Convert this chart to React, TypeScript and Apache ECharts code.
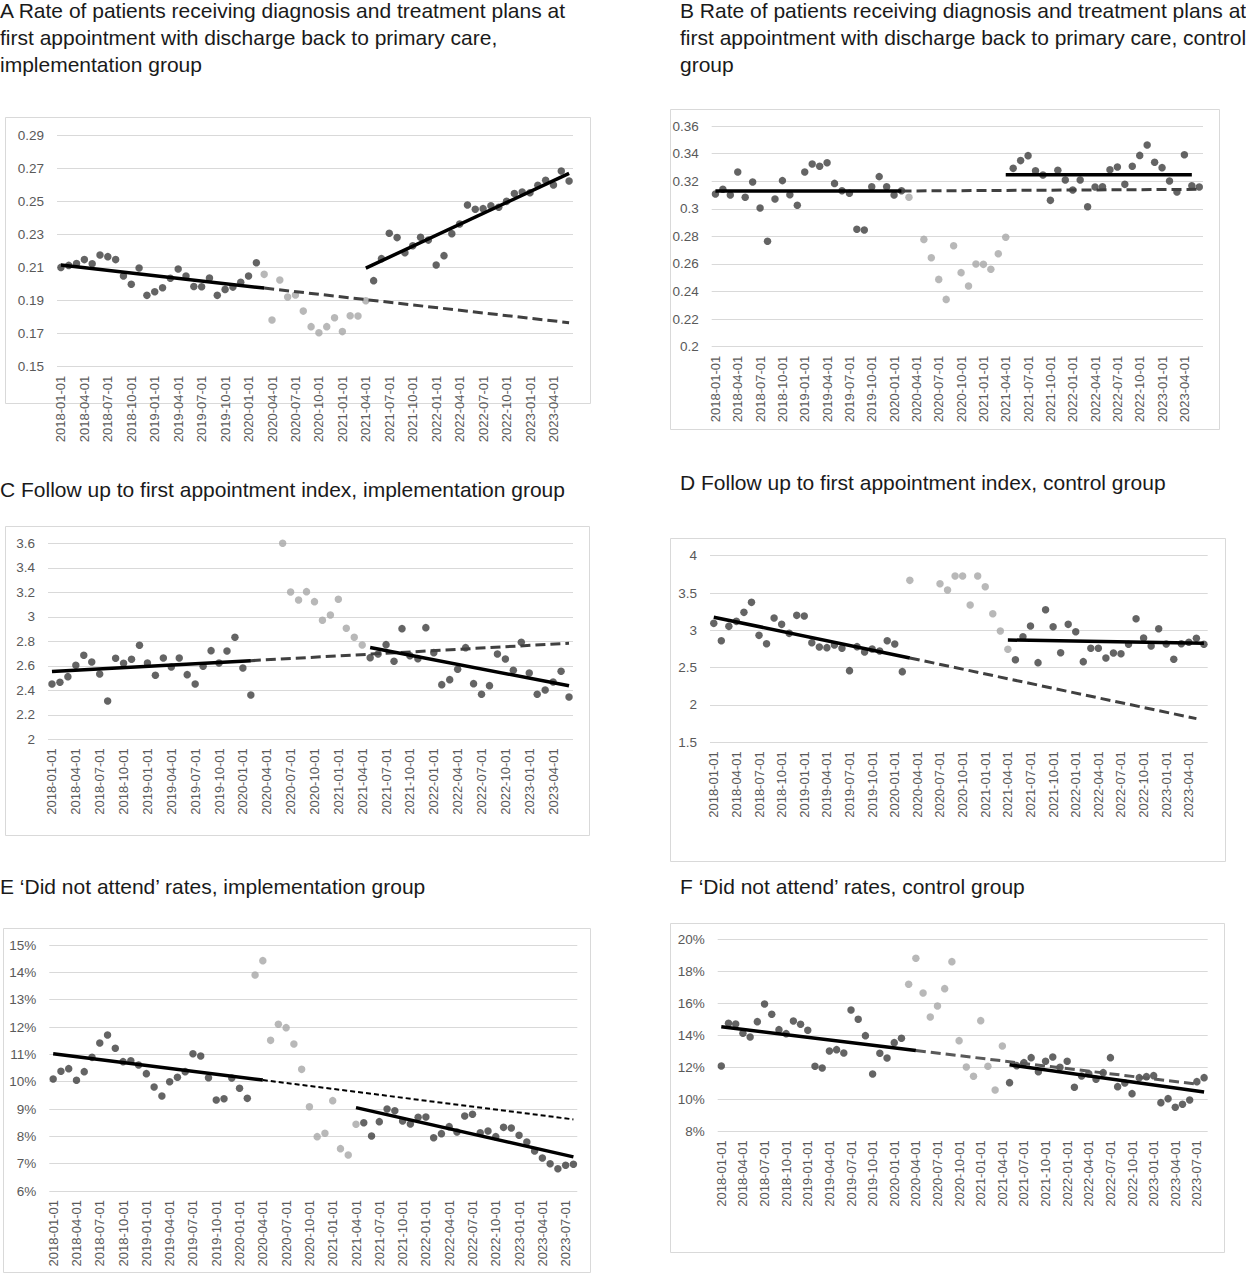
import React, { useEffect, useRef } from 'react';
import * as echarts from 'echarts';

// ---------- categories ----------
const buildMonths = (n: number): string[] =>
  Array.from({ length: n }, (_, k) => {
    const y = 2018 + Math.floor(k / 12);
    const m = (k % 12) + 1;
    return `${y}-${String(m).padStart(2, '0')}-01`;
  });
const months66 = buildMonths(66); // 2018-01 .. 2023-06
const months68 = buildMonths(68); // 2018-01 .. 2023-08

// ---------- Panel A ----------
const aPre = [0.2100, 0.2112, 0.2124, 0.2147, 0.2122, 0.2175, 0.2165, 0.2147, 0.2048, 0.1998, 0.2096, 0.1931, 0.1953, 0.1977, 0.2034, 0.2090, 0.2048, 0.1985, 0.1983, 0.2036, 0.1931, 0.1967, 0.1981, 0.2010, 0.2048, 0.2128];
const aCovid = [0.2058, 0.1782, 0.2024, 0.1921, 0.1933, 0.1836, 0.1742, 0.1705, 0.1742, 0.1796, 0.1712, 0.1808, 0.1806, 0.1899];
const aPost = [0.2020, 0.2153, 0.2306, 0.2280, 0.2189, 0.2231, 0.2282, 0.2265, 0.2114, 0.2171, 0.2304, 0.2362, 0.2477, 0.2451, 0.2455, 0.2473, 0.2463, 0.2499, 0.2547, 0.2555, 0.2551, 0.2596, 0.2626, 0.2598, 0.2682, 0.2622];
const aTrendPre = [[0, 0.2114], [26, 0.1975]];
const aTrendCf = [[26, 0.1975], [65, 0.1766]];
const aTrendPost = [[39, 0.2096], [65, 0.2668]];

// ---------- Panel B ----------
const bPre = [0.3107, 0.3141, 0.3100, 0.3266, 0.3083, 0.3194, 0.3005, 0.2764, 0.3071, 0.3204, 0.3102, 0.3025, 0.3266, 0.3324, 0.3308, 0.3334, 0.3184, 0.3131, 0.3112, 0.2851, 0.2846, 0.3160, 0.3233, 0.3160, 0.3100, 0.3131];
const bCovid = [0.3083, null, 0.2778, 0.2645, 0.2488, 0.2343, 0.2732, 0.2537, 0.2440, 0.2599, 0.2597, 0.2561, 0.2674, 0.2793];
const bPost = [0.3293, 0.3349, 0.3385, 0.3276, 0.3245, 0.3061, 0.3279, 0.3208, 0.3136, 0.3208, 0.3015, 0.3158, 0.3160, 0.3283, 0.3303, 0.3177, 0.3308, 0.3387, 0.3462, 0.3337, 0.3298, 0.3201, 0.3121, 0.3392, 0.3167, 0.3158];
const bTrendPre = [[0, 0.3129], [25, 0.3129]];
const bTrendCf = [[25, 0.3129], [65, 0.3141]];
const bTrendPost = [[39, 0.3247], [64, 0.3247]];

// ---------- Panel C ----------
const cPre = [2.4517, 2.4653, 2.5116, 2.6041, 2.6857, 2.6313, 2.5333, 2.3129, 2.6612, 2.6204, 2.6530, 2.7673, 2.6231, 2.5224, 2.6639, 2.5905, 2.6639, 2.5279, 2.4517, 2.5959, 2.7238, 2.6231, 2.7211, 2.8327, 2.5823, 2.3619];
const cCovid = [null, null, null, 3.6, 3.2027, 3.1374, 3.2054, 3.1238, 2.9714, 3.0150, 3.1429, 2.9061, 2.8327, 2.7701];
const cPost = [2.6667, 2.6966, 2.7728, 2.6367, 2.9034, 2.6830, 2.6585, 2.9116, 2.7075, 2.4463, 2.4871, 2.5714, 2.7483, 2.4544, 2.3673, 2.4381, 2.6966, 2.6558, 2.5633, 2.7918, 2.5415, 2.3673, 2.4027, 2.4680, 2.5551, 2.3456];
const cTrendPre = [[0, 2.553], [25, 2.642]];
const cTrendCf = [[25, 2.642], [65, 2.784]];
const cTrendPost = [[40, 2.749], [65, 2.437]];

// ---------- Panel D ----------
const dPre = [3.0938, 2.8616, 3.0536, 3.1205, 3.2411, 3.3750, 2.9330, 2.8214, 3.1652, 3.0804, 2.9598, 3.2009, 3.1920, 2.8348, 2.7768, 2.7679, 2.8036, 2.7589, 2.4598, 2.7813, 2.7098, 2.7500, 2.7232, 2.8616, 2.8170, 2.4464];
const dCovid = [3.6696, null, null, null, 3.6250, 3.5402, 3.7277, 3.7277, 3.3393, 3.7277, 3.5848, 3.2232, 2.9911, 2.7455];
const dPost = [2.6071, 2.9152, 3.0580, 2.5670, 3.2768, 3.0491, 2.7009, 3.0804, 2.9821, 2.5804, 2.7589, 2.7589, 2.6295, 2.6964, 2.6875, 2.8125, 3.1563, 2.8973, 2.7902, 3.0223, 2.8170, 2.6116, 2.8214, 2.8393, 2.8929, 2.8125];
const dTrendPre = [[0, 3.176], [26, 2.630]];
const dTrendCf = [[26, 2.630], [64, 1.817]];
const dTrendPost = [[39, 2.871], [65, 2.826]];

// ---------- Panel E (percent) ----------
const ePre = [10.098, 10.378, 10.476, 10.049, 10.366, 10.890, 11.415, 11.707, 11.220, 10.732, 10.768, 10.610, 10.293, 9.805, 9.476, 10.000, 10.159, 10.366, 11.024, 10.939, 10.146, 9.329, 9.378, 10.134, 9.756, 9.390];
const eCovid = [13.902, 14.427, 11.512, 12.098, 11.976, 11.378, 10.451, 9.085, 7.988, 8.110, 9.305, 7.549, 7.317, 8.439];
const ePost = [8.500, 8.012, 8.537, 9.000, 8.939, 8.561, 8.451, 8.695, 8.707, 7.951, 8.098, 8.354, 8.159, 8.744, 8.805, 8.134, 8.195, 7.988, 8.329, 8.305, 8.037, 7.793, 7.463, 7.207, 7.000, 6.817, 6.939, 6.976];
const eTrendPre = [[0, 11.02], [27, 10.06]];
const eTrendCf = [[27, 10.06], [67, 8.62]];
const eTrendPost = [[39, 9.05], [67, 7.25]];

// ---------- Panel F (percent) ----------
const fPre = [12.083, 14.750, 14.708, 14.125, 13.896, 14.854, 15.958, 15.313, 14.354, 14.104, 14.896, 14.688, 14.313, 12.063, 11.958, 13.021, 13.104, 12.896, 15.583, 15.000, 13.979, 11.583, 12.875, 12.583, 13.542, 13.813];
const fCovid = [17.188, 18.813, 16.646, 15.146, 15.833, 16.917, 18.604, 13.667, 12.021, 11.438, 14.917, 12.063, 10.583, 13.333];
const fPost = [11.042, 12.104, 12.292, 12.604, 11.729, 12.375, 12.646, 12.000, 12.375, 10.750, 11.458, 11.600, 11.250, 11.667, 12.604, 10.792, 11.021, 10.354, 11.354, 11.417, 11.479, 9.792, 10.042, 9.500, 9.688, 9.958, 11.104, 11.354];
const fTrendPre = [[0, 14.54], [27, 13.05]];
const fTrendCf = [[27, 13.05], [66, 10.95]];
const fTrendPost = [[40, 12.16], [67, 10.45]];

// ---------- titles ----------
const titleA = ['A Rate of patients receiving diagnosis and treatment plans at', 'first appointment with discharge back to primary care,', 'implementation group'];
const titleB = ['B Rate of patients receiving diagnosis and treatment plans at', 'first appointment with discharge back to primary care, control', 'group'];
const titleC = ['C Follow up to first appointment index, implementation group'];
const titleD = ['D Follow up to first appointment index, control group'];
const titleE = ['E \u2018Did not attend\u2019 rates, implementation group'];
const titleF = ['F \u2018Did not attend\u2019 rates, control group'];

const DARK = '#3d3d3d';
const GREY = '#a6a6a6';
const GRIDC = '#d9d9d9';
const LABELC = '#595959';
const FONT = 'Liberation Sans';

const panels = [
  { cats: months66, pre: aPre, covid: aCovid, post: aPost, tPre: aTrendPre, tCf: aTrendCf, tPost: aTrendPost,
    grid: [57, 135, 516, 231.7], box: [5, 117, 585, 286], title: titleA, tx: 0, ty: 10,
    y: [0.15, 0.29, 0.02], pct: false, dash: { color: '#404040', width: 3, type: [10, 5] } },
  { cats: months66, pre: bPre, covid: bCovid, post: bPost, tPre: bTrendPre, tCf: bTrendCf, tPost: bTrendPost,
    grid: [711.7, 126, 491.3, 220.7], box: [670, 109, 549, 320], title: titleB, tx: 680, ty: 10,
    y: [0.2, 0.36, 0.02], pct: false, dash: { color: '#404040', width: 3, type: [10, 5] } },
  { cats: months66, pre: cPre, covid: cCovid, post: cPost, tPre: cTrendPre, tCf: cTrendCf, tPost: cTrendPost,
    grid: [48, 543.3, 525, 196], box: [5, 526, 584, 309], title: titleC, tx: 0, ty: 489,
    y: [2, 3.6, 0.2], pct: false, dash: { color: '#404040', width: 3, type: [10, 5] } },
  { cats: months66, pre: dPre, covid: dCovid, post: dPost, tPre: dTrendPre, tCf: dTrendCf, tPost: dTrendPost,
    grid: [710, 555.7, 497.7, 186.6], box: [670, 538, 555, 323], title: titleD, tx: 680, ty: 482,
    y: [1.5, 4, 0.5], pct: false, dash: { color: '#404040', width: 3, type: [10, 5] } },
  { cats: months68, pre: ePre, covid: eCovid, post: ePost, tPre: eTrendPre, tCf: eTrendCf, tPost: eTrendPost,
    grid: [49.3, 945, 528, 246], box: [3, 928, 587, 344], title: titleE, tx: 0, ty: 886,
    y: [6, 15, 1], pct: true, dash: { color: '#000000', width: 2, type: [5, 3] } },
  { cats: months68, pre: fPre, covid: fCovid, post: fPost, tPre: fTrendPre, tCf: fTrendCf, tPost: fTrendPost,
    grid: [717.7, 939.3, 490, 192], box: [670, 923, 554, 329], title: titleF, tx: 680, ty: 886,
    y: [8, 20, 2], pct: true, dash: { color: '#595959', width: 3, type: [10, 5] } },
];

const toPoints = (vals: (number | null)[], offset: number) =>
  vals.map((v, k) => (v == null ? null : [offset + k, v])).filter((d) => d !== null);

function buildOption() {
  const grids: any[] = [];
  const xAxes: any[] = [];
  const yAxes: any[] = [];
  const series: any[] = [];
  const graphics: any[] = [];

  panels.forEach((p, g) => {
    const [l, t, w, h] = p.grid;
    grids.push({ left: l, top: t, width: w, height: h, containLabel: false, outerBoundsMode: 'none' });
    xAxes.push({
      type: 'category', gridIndex: g, data: p.cats, boundaryGap: true,
      axisLine: { show: false }, axisTick: { show: false }, splitLine: { show: false },
      axisLabel: { interval: 2, rotate: 90, fontSize: 13, fontFamily: FONT, color: LABELC, margin: 9 },
    });
    yAxes.push({
      type: 'value', gridIndex: g, min: p.y[0], max: p.y[1], interval: p.y[2],
      axisLine: { show: false }, axisTick: { show: false },
      splitLine: { show: true, lineStyle: { color: GRIDC, width: 1 } },
      axisLabel: {
        fontSize: 13.5, fontFamily: FONT, color: LABELC, margin: 13,
        formatter: (v: number) => (p.pct ? `${Math.round(v)}%` : String(+v.toFixed(2))),
      },
    });
    const covOff = p.pre.length;
    const postOff = p.pre.length + p.covid.length;
    const sc = (data: any[], color: string) => ({
      type: 'scatter', xAxisIndex: g, yAxisIndex: g, data, symbol: 'circle', symbolSize: 7.5,
      itemStyle: { color }, z: 2, silent: true,
    });
    series.push(sc(toPoints(p.pre, 0), DARK));
    series.push(sc(toPoints(p.covid, covOff), GREY));
    series.push(sc(toPoints(p.post, postOff), DARK));
    const ln = (data: any[], style: any) => ({
      type: 'line', xAxisIndex: g, yAxisIndex: g, data, showSymbol: false, symbol: 'none',
      lineStyle: style, z: 3, silent: true,
    });
    series.push(ln(p.tCf, { color: p.dash.color, width: p.dash.width, type: p.dash.type, cap: 'butt' }));
    series.push(ln(p.tPre, { color: '#000000', width: 3.5 }));
    series.push(ln(p.tPost, { color: '#000000', width: 3.5 }));

    const [bx, by, bw, bh] = p.box;
    graphics.push({
      type: 'rect', shape: { x: bx + 0.5, y: by + 0.5, width: bw, height: bh },
      style: { fill: 'none', stroke: GRIDC, lineWidth: 1 }, z: -10, silent: true,
    });
    p.title.forEach((line, k) => {
      graphics.push({
        type: 'text', x: p.tx, y: p.ty + k * 27,
        style: { text: line, fontSize: 21, fontFamily: FONT, fill: '#1a1a1a', verticalAlign: 'middle', align: 'left' },
        silent: true,
      });
    });
  });

  return {
    animation: false,
    backgroundColor: '#ffffff',
    grid: grids,
    xAxis: xAxes,
    yAxis: yAxes,
    series,
    graphic: graphics,
  };
}

export default function App() {
  const ref = useRef<HTMLDivElement>(null);
  useEffect(() => {
    if (!ref.current) return;
    const chart = echarts.init(ref.current, undefined, { renderer: 'svg' });
    chart.setOption(buildOption() as any);
    return () => chart.dispose();
  }, []);
  return <div ref={ref} style={{ position: 'absolute', left: 0, top: 0, width: 1246, height: 1280 }} />;
}
